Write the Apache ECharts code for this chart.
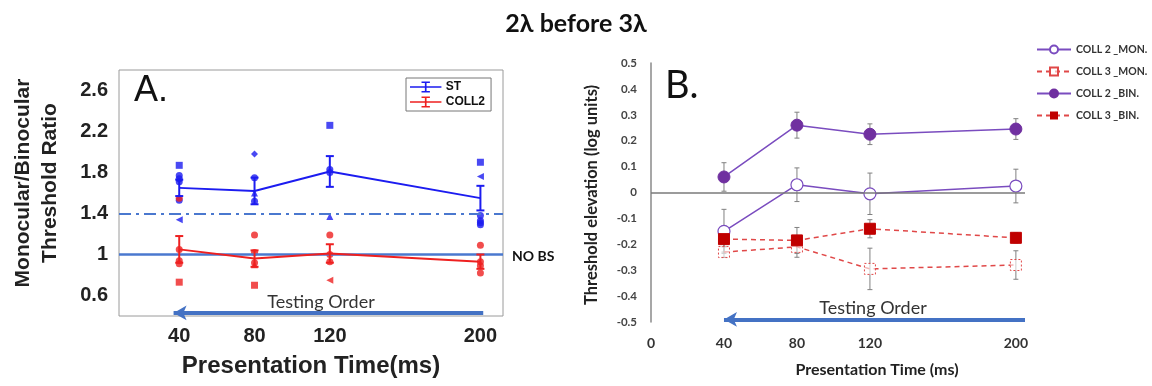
<!DOCTYPE html>
<html>
<head>
<meta charset="utf-8">
<script src="https://cdn.jsdelivr.net/npm/echarts@6/dist/echarts.min.js"></script>
<style>
  html, body { margin: 0; padding: 0; background: #fff; }
  #chart { width: 1152px; height: 386px; }
</style>
</head>
<body>
<div id="chart"></div>
<script>
// ---- panel A data ----
const xA = [40, 80, 120, 200];
const stMean = [1.65, 1.62, 1.81, 1.55];
const stErr = [0.08, 0.13, 0.15, 0.12];
const coll2Mean = [1.05, 0.96, 1.01, 0.93];
const coll2Err = [0.13, 0.08, 0.09, 0.07];
const stPts = [
  [40, 1.87], [40, 1.77], [40, 1.74], [40, 1.71], [40, 1.53], [40, 1.34],
  [80, 1.98], [80, 1.75], [80, 1.60], [80, 1.52],
  [120, 2.26], [120, 1.83], [120, 1.80], [120, 1.37],
  [200, 1.90], [200, 1.76], [200, 1.38], [200, 1.33], [200, 1.31], [200, 1.29]
];
const coll2Pts = [
  [40, 1.55], [40, 1.05], [40, 0.94], [40, 0.91], [40, 0.73],
  [80, 1.19], [80, 1.02], [80, 0.92], [80, 0.90], [80, 0.70],
  [120, 1.19], [120, 1.00], [120, 0.93], [120, 0.75],
  [200, 1.09], [200, 0.93], [200, 0.89], [200, 0.82]
];
const aYTicks = [0.6, 1, 1.4, 1.8, 2.2, 2.6];
const aXTicks = [40, 80, 120, 200];
const noBsLevel = 1;
const stCutLevel = 1.4;

// ---- panel B data ----
const xB = [40, 80, 120, 200];
const coll2Mon = [-0.15, 0.03, -0.005, 0.025];
const coll2MonErr = [0.085, 0.065, 0.08, 0.065];
const coll3Mon = [-0.23, -0.21, -0.295, -0.28];
const coll3MonErr = [0.02, 0.04, 0.08, 0.055];
const coll2Bin = [0.06, 0.26, 0.225, 0.245];
const coll2BinErr = [0.055, 0.05, 0.04, 0.04];
const coll3Bin = [-0.18, -0.185, -0.14, -0.175];
const coll3BinErr = [0.05, 0.05, 0.035, 0.02];
const bXTicks = [0, 40, 80, 120, 200];

// marker shapes for the individual points (style only)
const stShapes = ['rect', 'circle', 'circle', 'circle', 'circle', 'tri-left', 'diamond', 'circle', 'triangle', 'circle',
  'rect', 'circle', 'circle', 'triangle', 'rect', 'tri-left', 'circle', 'circle', 'circle', 'circle'];
const coll2Shapes = ['circle', 'circle', 'circle', 'circle', 'rect', 'circle', 'circle', 'circle', 'triangle', 'rect',
  'circle', 'circle', 'circle', 'tri-left', 'circle', 'circle', 'circle', 'circle'];

const ARIAL = '"Liberation Sans", Arial, sans-serif';
const CALIBRI = 'Lato, "Open Sans", sans-serif';
const BLUE = '#1c1cf0';
const RED = '#ee2020';
const PURPLE = '#7030a0';
const DRED = '#c00000';
const ERRBAR_ICON = 'path://M0,5H30V6.5H0Z M14.2,1H15.8V10H14.2Z M11,0.5H19V2H11Z M11,9.5H19V11H11Z';

function pts(list, shapes) {
  return list.map((p, i) => {
    const s = shapes[i] || 'circle';
    return {
      value: p,
      symbol: s === 'tri-left' ? 'triangle' : s,
      symbolRotate: s === 'tri-left' ? 90 : 0
    };
  });
}

function errData(xs, ys, es) {
  return xs.map((x, i) => [x, ys[i], es[i]]);
}

function errBars(capHalf, width) {
  return function (params, api) {
    const x = api.value(0), y = api.value(1), e = api.value(2);
    const top = api.coord([x, y + e]);
    const bot = api.coord([x, y - e]);
    const style = { stroke: api.visual('color'), lineWidth: width, fill: null };
    return {
      type: 'group',
      children: [
        { type: 'line', shape: { x1: top[0], y1: top[1], x2: bot[0], y2: bot[1] }, style },
        { type: 'line', shape: { x1: top[0] - capHalf, y1: top[1], x2: top[0] + capHalf, y2: top[1] }, style },
        { type: 'line', shape: { x1: bot[0] - capHalf, y1: bot[1], x2: bot[0] + capHalf, y2: bot[1] }, style }
      ]
    };
  };
}

function pickTick(list, v) {
  const t = list.find((t) => Math.abs(t - v) < 1e-6);
  return t === undefined ? '' : String(t);
}

const chart = echarts.init(document.getElementById('chart'));

chart.setOption({
  animation: false,
  backgroundColor: '#fff',
  title: {
    text: '2λ before 3λ',
    left: 'center',
    top: 6,
    textStyle: { fontFamily: CALIBRI, fontWeight: 'bold', fontSize: 25, color: '#111' }
  },
  legend: [
    {
      data: [{ name: 'ST', icon: ERRBAR_ICON }, { name: 'COLL2', icon: ERRBAR_ICON }],
      orient: 'vertical',
      left: 406,
      top: 78,
      padding: [3, 6, 3, 4],
      itemWidth: 36,
      itemHeight: 11,
      itemGap: 3,
      borderColor: '#777',
      borderWidth: 1,
      backgroundColor: '#fff',
      textStyle: { fontFamily: ARIAL, fontWeight: 'bold', fontSize: 12, color: '#111', padding: [0, 0, 0, -3] }
    },
    {
      data: ['COLL 2 _MON.', 'COLL 3 _MON.', 'COLL 2 _BIN.', 'COLL 3 _BIN.'],
      orient: 'vertical',
      left: 1031,
      top: 39,
      itemWidth: 34,
      itemHeight: 10,
      itemGap: 11,
      textStyle: { fontFamily: CALIBRI, fontWeight: 'bold', fontSize: 10.5, color: '#333' }
    }
  ],
  grid: [
    { left: 119, top: 70, width: 384, height: 246, show: true, borderColor: '#9a9a9a', borderWidth: 1, backgroundColor: '#fff' },
    { left: 651, top: 63, width: 374, height: 259 }
  ],
  xAxis: [
    {
      gridIndex: 0, type: 'value', min: 8, max: 212, interval: 8,
      axisLine: { show: false, onZero: false }, axisTick: { show: false }, splitLine: { show: false },
      axisLabel: {
        margin: 10, fontFamily: ARIAL, fontWeight: 'bold', fontSize: 20, color: '#222',
        showMaxLabel: false, formatter: (v) => pickTick(aXTicks, v)
      }
    },
    {
      gridIndex: 1, type: 'value', min: 0, max: 205, interval: 40,
      axisLine: { show: false, onZero: false }, axisTick: { show: false }, splitLine: { show: false },
      axisLabel: {
        margin: 14, fontFamily: CALIBRI, fontWeight: 'bold', fontSize: 14, color: '#333',
        showMaxLabel: false, formatter: (v) => pickTick(bXTicks, v)
      }
    }
  ],
  yAxis: [
    {
      gridIndex: 0, type: 'value', min: 0.4, max: 2.8, interval: 0.2,
      axisLine: { show: false, onZero: false }, axisTick: { show: false }, splitLine: { show: false },
      axisLabel: {
        margin: 11, fontFamily: ARIAL, fontWeight: 'bold', fontSize: 20, color: '#222',
        formatter: (v) => pickTick(aYTicks, v)
      }
    },
    {
      gridIndex: 1, type: 'value', min: -0.5, max: 0.5, interval: 0.1,
      axisLine: { show: true, onZero: false, lineStyle: { color: '#8a8a8a', width: 1.5 } },
      axisTick: { show: false }, splitLine: { show: false },
      axisLabel: {
        margin: 14, fontFamily: CALIBRI, fontWeight: 'bold', fontSize: 11.5, color: '#444',
        formatter: (v) => (Math.abs(v) < 1e-9 ? '0' : String(Math.round(v * 10) / 10))
      }
    }
  ],
  graphic: [
    { type: 'text', left: 134, top: 73, style: { text: 'A.', font: '36px ' + ARIAL, fill: '#111' } },
    { type: 'text', left: 665, top: 67, style: { text: 'B.', font: '38px ' + CALIBRI, fill: '#111' } },
    { type: 'text', x: 512, y: 256, style: { text: 'NO BS', font: 'bold 14px ' + CALIBRI, fill: '#111', textVerticalAlign: 'middle' } },
    { type: 'text', x: 321, y: 302, style: { text: 'Testing Order', font: '18px ' + CALIBRI, fill: '#333', textAlign: 'center', textVerticalAlign: 'middle' } },
    { type: 'text', x: 873, y: 308, style: { text: 'Testing Order', font: '18px ' + CALIBRI, fill: '#333', textAlign: 'center', textVerticalAlign: 'middle' } },
    {
      type: 'text', x: 37, y: 183, rotation: Math.PI / 2,
      style: { text: 'Monocular/Binocular\nThreshold Ratio', font: 'bold 21px ' + ARIAL, lineHeight: 27, fill: '#222', textAlign: 'center', textVerticalAlign: 'middle' }
    },
    {
      type: 'text', x: 592, y: 195, rotation: Math.PI / 2,
      style: { text: 'Threshold elevation (log units)', font: 'bold 16.5px ' + CALIBRI, fill: '#222', textAlign: 'center', textVerticalAlign: 'middle' }
    },
    { type: 'text', x: 311, y: 366, style: { text: 'Presentation Time(ms)', font: 'bold 24px ' + ARIAL, fill: '#222', textAlign: 'center', textVerticalAlign: 'middle' } },
    { type: 'text', x: 877, y: 370, style: { text: 'Presentation Time (ms)', font: 'bold 16px ' + CALIBRI, fill: '#222', textAlign: 'center', textVerticalAlign: 'middle' } }
  ],
  series: [
    // ----- panel A -----
    {
      name: 'ST pts', type: 'scatter', xAxisIndex: 0, yAxisIndex: 0,
      symbolSize: 7, itemStyle: { color: BLUE }, data: pts(stPts, stShapes), z: 3
    },
    {
      name: 'COLL2 pts', type: 'scatter', xAxisIndex: 0, yAxisIndex: 0,
      symbolSize: 7, itemStyle: { color: RED }, data: pts(coll2Pts, coll2Shapes), z: 3
    },
    {
      name: 'ST', type: 'line', xAxisIndex: 0, yAxisIndex: 0, showSymbol: false, symbol: 'none',
      color: BLUE, lineStyle: { color: BLUE, width: 2 },
      data: xA.map((x, i) => [x, stMean[i]]), z: 4,
      markLine: {
        silent: true, symbol: 'none', label: { show: false },
        data: [
          { yAxis: stCutLevel, lineStyle: { color: '#4a78cf', width: 2, type: [12, 5, 3, 5] } },
          { yAxis: noBsLevel, lineStyle: { color: '#4a78cf', width: 2.5, type: 'solid' } },
          [
            { coord: [201.5, 0.43], symbol: 'none', lineStyle: { color: '#4472c4', width: 4, type: 'solid' } },
            { coord: [37, 0.43], symbol: 'arrow', symbolSize: [11, 13] }
          ]
        ]
      }
    },
    {
      name: 'COLL2', type: 'line', xAxisIndex: 0, yAxisIndex: 0, showSymbol: false, symbol: 'none',
      color: RED, lineStyle: { color: RED, width: 2 },
      data: xA.map((x, i) => [x, coll2Mean[i]]), z: 5
    },
    {
      name: 'ST err', type: 'custom', xAxisIndex: 0, yAxisIndex: 0, itemStyle: { color: BLUE },
      renderItem: errBars(4, 2), data: errData(xA, stMean, stErr), z: 4
    },
    {
      name: 'COLL2 err', type: 'custom', xAxisIndex: 0, yAxisIndex: 0, itemStyle: { color: RED },
      renderItem: errBars(4, 2), data: errData(xA, coll2Mean, coll2Err), z: 5
    },
    // ----- panel B -----
    {
      name: 'B err', type: 'custom', xAxisIndex: 1, yAxisIndex: 1, itemStyle: { color: '#808080' },
      renderItem: errBars(2.5, 1),
      data: [].concat(
        errData(xB, coll2Mon, coll2MonErr), errData(xB, coll3Mon, coll3MonErr),
        errData(xB, coll2Bin, coll2BinErr), errData(xB, coll3Bin, coll3BinErr)
      ), z: 2
    },
    {
      name: 'COLL 2 _MON.', type: 'line', xAxisIndex: 1, yAxisIndex: 1,
      symbol: 'circle', symbolSize: 12,
      lineStyle: { color: '#7a4cbf', width: 1.5 },
      itemStyle: { color: '#fff', borderColor: '#7a4cbf', borderWidth: 1.2 },
      data: xB.map((x, i) => [x, coll2Mon[i]]), z: 4,
      markLine: {
        silent: true, symbol: 'none', label: { show: false },
        data: [
          { yAxis: 0, lineStyle: { color: '#7a7a7a', width: 1.5, type: 'solid' } },
          [
            { coord: [205, -0.49], symbol: 'none', lineStyle: { color: '#4472c4', width: 4, type: 'solid' } },
            { coord: [40, -0.49], symbol: 'arrow', symbolSize: [11, 13] }
          ]
        ]
      }
    },
    {
      name: 'COLL 3 _MON.', type: 'line', xAxisIndex: 1, yAxisIndex: 1,
      symbol: 'rect', symbolSize: 11,
      lineStyle: { color: '#e04848', width: 1.5, type: [5, 4] },
      itemStyle: { color: 'rgba(255,255,255,0.6)', borderColor: '#e04848', borderWidth: 1, borderType: [2, 2] },
      data: xB.map((x, i) => [x, coll3Mon[i]]), z: 3
    },
    {
      name: 'COLL 2 _BIN.', type: 'line', xAxisIndex: 1, yAxisIndex: 1,
      symbol: 'circle', symbolSize: 12,
      lineStyle: { color: '#7a4cbf', width: 1.5 },
      itemStyle: { color: PURPLE, borderColor: PURPLE, borderWidth: 1 },
      data: xB.map((x, i) => [x, coll2Bin[i]]), z: 4
    },
    {
      name: 'COLL 3 _BIN.', type: 'line', xAxisIndex: 1, yAxisIndex: 1,
      symbol: 'rect', symbolSize: 11,
      lineStyle: { color: '#e04848', width: 1.5, type: [5, 4] },
      itemStyle: { color: DRED, borderColor: DRED },
      data: xB.map((x, i) => [x, coll3Bin[i]]), z: 4
    }
  ]
});

window.addEventListener('resize', () => chart.resize());
</script>
</body>
</html>
